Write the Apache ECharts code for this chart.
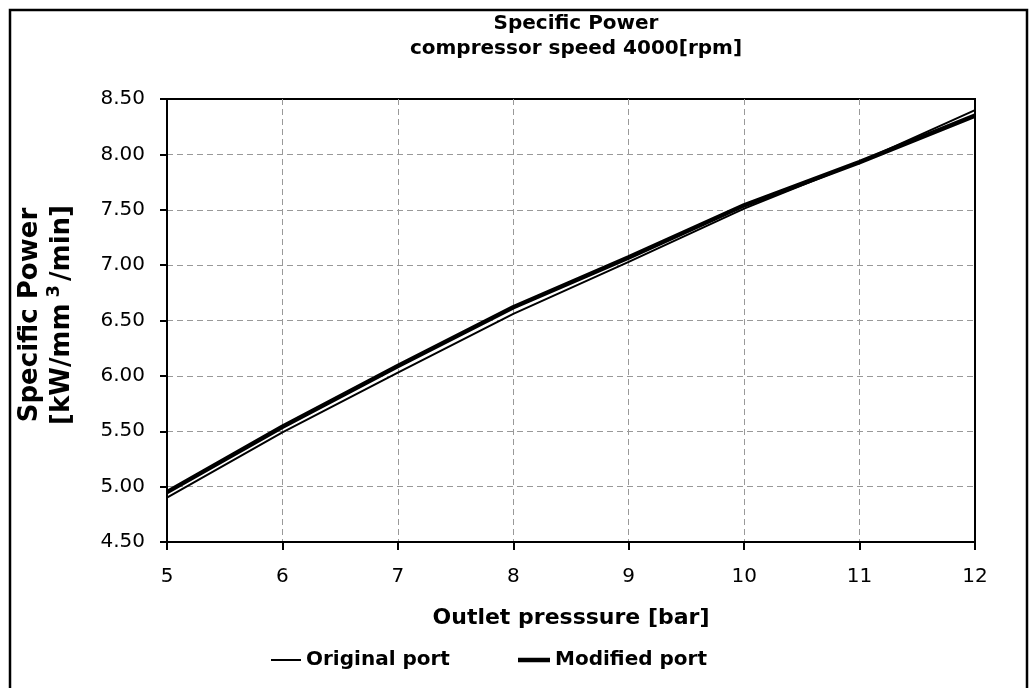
<!DOCTYPE html>
<html>
<head>
<meta charset="utf-8">
<script src="https://cdn.jsdelivr.net/npm/echarts@6/dist/echarts.min.js"></script>
<style>html,body{margin:0;padding:0;background:#fff;}#c{width:1029px;height:688px;}</style>
</head>
<body>
<div id="c"></div>
<script>
const pressure = [5, 6, 7, 8, 9, 10, 11, 12];
const originalPort = [4.90, 5.49, 6.03, 6.56, 7.03, 7.51, 7.93, 8.40];
const modifiedPort = [4.95, 5.54, 6.09, 6.62, 7.07, 7.54, 7.93, 8.35];
const seriesNames = ['Original port', 'Modified port'];

const chart = echarts.init(document.getElementById('c'), null, {renderer: 'canvas'});
const font = 'DejaVu Sans, Liberation Sans, sans-serif';
const legendText = {fontFamily: font, fontWeight: 'bold', fontSize: 20, color: '#000'};
chart.setOption({
  backgroundColor: '#fff',
  animation: false,
  title: {
    text: 'Specific Power\ncompressor speed 4000[rpm]',
    left: 571, top: 6, textAlign: 'center',
    textStyle: {fontFamily: font, fontWeight: 'bold', fontSize: 20, color: '#000', lineHeight: 25}
  },
  legend: [
    {left: 271, top: 650, padding: 0, itemWidth: 30, itemHeight: 2, icon: 'rect',
     itemStyle: {color: '#000'}, textStyle: legendText, data: [seriesNames[0]]},
    {left: 518, top: 650, padding: 0, itemWidth: 32, itemHeight: 4.5, icon: 'rect',
     itemStyle: {color: '#000'}, textStyle: legendText, data: [seriesNames[1]]}
  ],
  grid: {left: 167, right: 54, top: 99, bottom: 146, show: true, borderColor: '#000', borderWidth: 2},
  xAxis: {
    type: 'value', min: 5, max: 12, interval: 1,
    name: 'Outlet presssure [bar]', nameLocation: 'middle', nameGap: 76,
    nameTextStyle: {fontFamily: font, fontWeight: 'bold', fontSize: 22, color: '#000', verticalAlign: 'middle'},
    axisLine: {lineStyle: {color: '#000', width: 2}},
    axisTick: {show: true, length: 8, lineStyle: {color: '#000', width: 2}},
    axisLabel: {fontFamily: font, fontSize: 20, color: '#000', margin: 35, verticalAlign: 'middle'},
    splitLine: {show: true, showMinLine: false, showMaxLine: false, lineStyle: {color: '#999', type: [6, 4], width: 1}}
  },
  yAxis: {
    type: 'value', min: 4.5, max: 8.5, interval: 0.5,
    axisLine: {show: true, lineStyle: {color: '#000', width: 2}},
    axisTick: {show: true, length: 7, lineStyle: {color: '#000', width: 2}},
    axisLabel: {fontFamily: font, fontSize: 20, color: '#000', margin: 22, formatter: v => v.toFixed(2)},
    splitLine: {show: true, showMinLine: false, showMaxLine: false, lineStyle: {color: '#999', type: [6, 4], width: 1}}
  },
  graphic: [
    {type: 'rect', shape: {x: 10, y: 10, width: 1017, height: 690}, style: {fill: 'none', stroke: '#000', lineWidth: 2.5}, z: 100},
    {type: 'text', x: 30, y: 315, rotation: Math.PI / 2,
     style: {text: 'Specific Power', fontFamily: font, fontWeight: 'bold', fontSize: 26, fill: '#000', align: 'center', verticalAlign: 'middle'}},
    {type: 'text', x: 62, y: 315, rotation: Math.PI / 2,
     style: {text: '{a|[kW/mm}{s|3}{a|/min]}', align: 'center', verticalAlign: 'middle',
       rich: {a: {fontFamily: font, fontWeight: 'bold', fontSize: 26, fill: '#000', color: '#000'},
              s: {fontFamily: font, fontWeight: 'bold', fontSize: 18, color: '#000', fill: '#000', verticalAlign: 'top', padding: [0, 4, 16, 6]}}}}
  ],
  series: [
    {name: seriesNames[0], type: 'line', data: pressure.map((x, i) => [x, originalPort[i]]),
     symbol: 'none', lineStyle: {color: '#000', width: 2}, itemStyle: {color: '#000'}, z: 3},
    {name: seriesNames[1], type: 'line', data: pressure.map((x, i) => [x, modifiedPort[i]]),
     symbol: 'none', lineStyle: {color: '#000', width: 4.5}, itemStyle: {color: '#000'}, z: 2}
  ]
});
</script>
</body>
</html>
